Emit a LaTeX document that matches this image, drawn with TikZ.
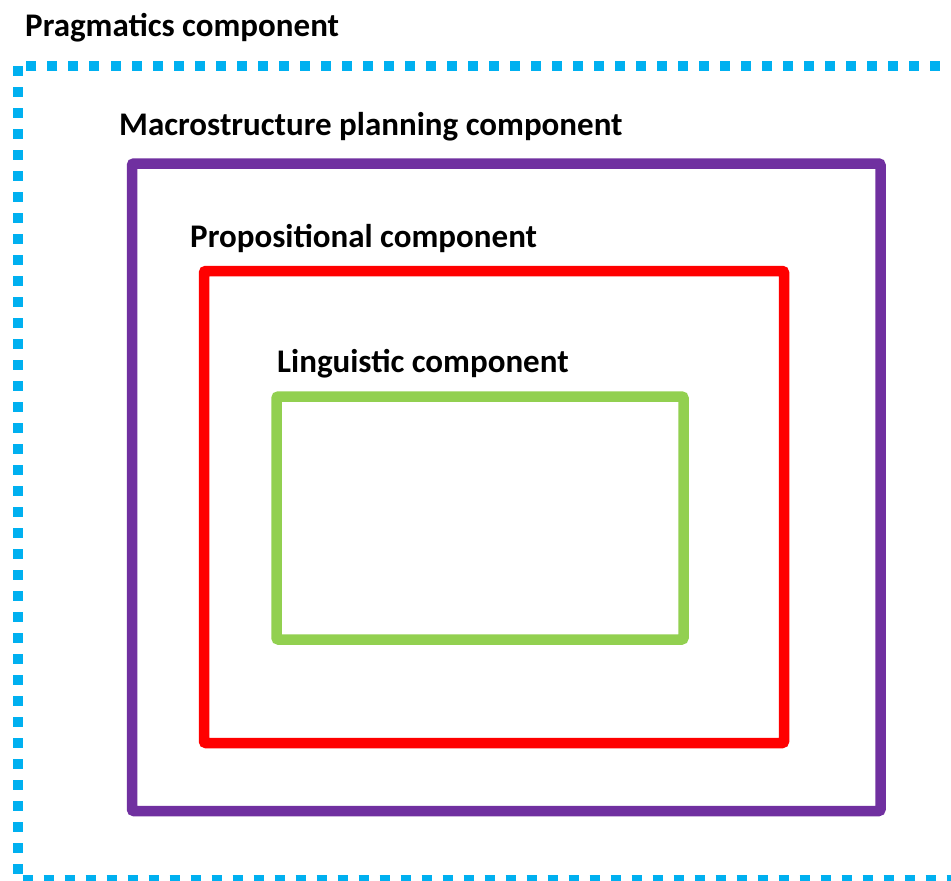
\documentclass[tikz,border=0pt]{standalone}
\usepackage{fontspec}
\setmainfont{Carlito}
\definecolor{pragblue}{HTML}{00B0F0}
\definecolor{macropurple}{HTML}{7030A0}
\definecolor{propred}{HTML}{FF0000}
\definecolor{lingreen}{HTML}{92D050}
\begin{document}
\begin{tikzpicture}[
        x=1pt, y=-1pt,
        layer/.style={line width=10.5pt, rounded corners=2pt},
        label/.style={anchor=base west, inner sep=0pt, font=\fontsize{33}{38}\selectfont\bfseries},
    ]
    \useasboundingbox (0,0) rectangle (951,881);
    \clip (0,0) rectangle (951,881);
    % outer dashed frame
    \draw[pragblue, line width=10pt, dash pattern=on 10pt off 11pt] (17.5,66) rectangle (956,880);
    \draw[layer, macropurple] (132,163.5) rectangle (880.5,811);
    \draw[layer, propred] (204,271) rectangle (784,743);
    \draw[layer, lingreen] (276.5,396.5) rectangle (683.5,639.5);
    % labels
    \node[label] (pragmatics) at (25,36) {Pragmatics component};
    \node[label] (macro) at (119,135) {Macrostructure planning component};
    \node[label] (propositional) at (190,247) {Propositional component};
    \node[label] (linguistic) at (277,372) {Linguistic component};
\end{tikzpicture}
\end{document}
